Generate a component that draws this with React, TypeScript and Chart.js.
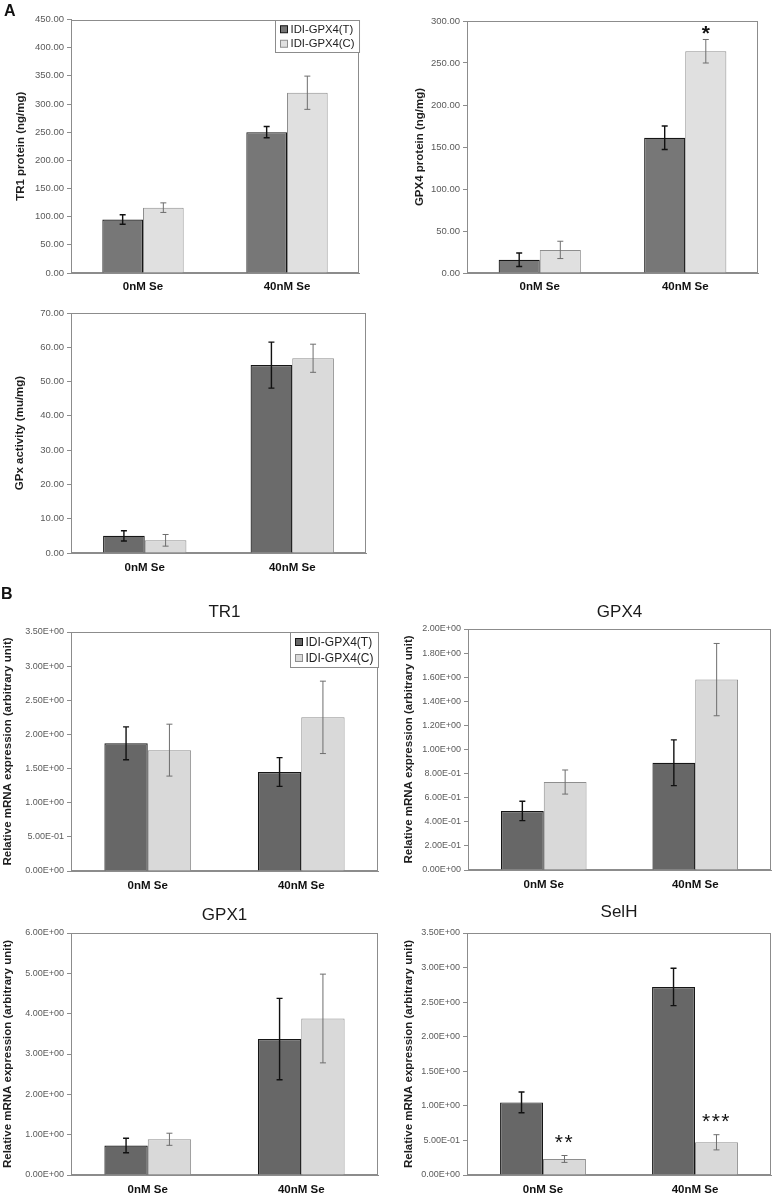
import React, { useEffect, useRef } from "react";
import { Chart, registerables } from "chart.js";
Chart.register(...registerables);

// ---------------- data ----------------
const categories = ["0nM Se", "40nM Se"];
const seriesNames = ["IDI-GPX4(T)", "IDI-GPX4(C)"];

// Panel A
const tr1ProteinT = [95, 250];
const tr1ProteinTErr = [8.5, 10];
const tr1ProteinC = [116, 320];
const tr1ProteinCErr = [8.5, 29.5];
const tr1ProteinTicks = [0, 50, 100, 150, 200, 250, 300, 350, 400, 450];

const gpx4ProteinT = [15.8, 161];
const gpx4ProteinTErr = [8, 14];
const gpx4ProteinC = [27.5, 264];
const gpx4ProteinCErr = [10.3, 14];
const gpx4ProteinStars = ["", "*"];
const gpx4ProteinTicks = [0, 50, 100, 150, 200, 250, 300];

const gpxActivityT = [5.0, 54.8];
const gpxActivityTErr = [1.5, 6.7];
const gpxActivityC = [3.7, 56.8];
const gpxActivityCErr = [1.7, 4.1];
const gpxActivityTicks = [0, 10, 20, 30, 40, 50, 60, 70];

// Panel B
const tr1MrnaT = [1.87, 1.45];
const tr1MrnaTErr = [0.24, 0.21];
const tr1MrnaC = [1.77, 2.25];
const tr1MrnaCErr = [0.38, 0.53];
const tr1MrnaTicks = [0, 0.5, 1, 1.5, 2, 2.5, 3, 3.5];

const gpx4MrnaT = [0.49, 0.89];
const gpx4MrnaTErr = [0.08, 0.19];
const gpx4MrnaC = [0.73, 1.58];
const gpx4MrnaCErr = [0.1, 0.3];
const gpx4MrnaTicks = [0, 0.2, 0.4, 0.6, 0.8, 1.0, 1.2, 1.4, 1.6, 1.8, 2.0];

const gpx1MrnaT = [0.73, 3.37];
const gpx1MrnaTErr = [0.18, 1.01];
const gpx1MrnaC = [0.886, 3.88];
const gpx1MrnaCErr = [0.15, 1.1];
const gpx1MrnaTicks = [0, 1, 2, 3, 4, 5, 6];

const selhMrnaT = [1.05, 2.72];
const selhMrnaTErr = [0.15, 0.27];
const selhMrnaC = [0.232, 0.473];
const selhMrnaCErr = [0.05, 0.11];
const selhMrnaStars = ["**", "***"];
const selhMrnaTicks = [0, 0.5, 1, 1.5, 2, 2.5, 3, 3.5];

// ---------------- formatting ----------------
const fmtFixed = (v: number) => v.toFixed(2);
const fmtExp = (v: number) => {
  if (Math.abs(v) < 1e-12) return "0.00E+00";
  let e = Math.floor(Math.log10(Math.abs(v)) + 1e-9);
  let m = v / Math.pow(10, e);
  if (Number(m.toFixed(2)) >= 10) {
    m /= 10;
    e += 1;
  }
  return m.toFixed(2) + "E" + (e < 0 ? "-" : "+") + String(Math.abs(e)).padStart(2, "0");
};

const SANS = "'Liberation Sans', Arial, Helvetica, sans-serif";

// ---------------- plugins ----------------
const framePlugin = {
  id: "frame",
  beforeDatasetsDraw(chart: any) {
    const { ctx, chartArea } = chart;
    ctx.save();
    ctx.strokeStyle = "#8c8c8c";
    ctx.lineWidth = 1;
    const l = Math.round(chartArea.left) + 0.5;
    const t = Math.round(chartArea.top) + 0.5;
    const r = Math.round(chartArea.right) - 0.5;
    const b = Math.round(chartArea.bottom) - 0.5;
    ctx.strokeRect(l, t, r - l, b - t);
    ctx.restore();
  },
};

const errorBarPlugin = {
  id: "errorBars",
  afterDatasetsDraw(chart: any, _args: any, opts: any) {
    const ctx = chart.ctx;
    const yScale = chart.scales.y;
    chart.data.datasets.forEach((ds: any, di: number) => {
      const meta = chart.getDatasetMeta(di);
      const errs = ds.errorBars;
      if (!errs) return;
      meta.data.forEach((el: any, i: number) => {
        const v = ds.data[i];
        const e = errs[i];
        const x = el.x;
        const yt = yScale.getPixelForValue(v + e);
        const yb = yScale.getPixelForValue(v - e);
        ctx.save();
        ctx.strokeStyle = ds.errorColor;
        ctx.lineWidth = ds.errorWidth;
        ctx.beginPath();
        ctx.moveTo(x, yt);
        ctx.lineTo(x, yb);
        ctx.moveTo(x - 3, yt);
        ctx.lineTo(x + 3, yt);
        ctx.moveTo(x - 3, yb);
        ctx.lineTo(x + 3, yb);
        ctx.stroke();
        const s = ds.stars ? ds.stars[i] : "";
        if (s) {
          ctx.font = opts.starFont;
          ctx.fillStyle = "#111";
          ctx.textAlign = "center";
          ctx.textBaseline = "alphabetic";
          try {
            (ctx as any).letterSpacing = opts.starSpacing || "0px";
          } catch (err) {}
          ctx.fillText(s, x, yt + opts.starOffset);
        }
        ctx.restore();
      });
    });
  },
};

const legendBoxPlugin = {
  id: "legendBox",
  afterDraw(chart: any, _args: any, opts: any) {
    if (!opts || !opts.show) return;
    const { ctx, chartArea } = chart;
    const size = opts.fontSize;
    ctx.save();
    ctx.font = `normal ${size}px ${SANS}`;
    const dsets = chart.data.datasets;
    let tw = 0;
    dsets.forEach((d: any) => {
      tw = Math.max(tw, ctx.measureText(d.label).width);
    });
    const rowH = opts.rowH;
    const sw = 7;
    const w = 5 + sw + 3 + tw + 5;
    const h = rowH * dsets.length + 3;
    const x = Math.round(chartArea.right - w) + 0.5;
    const y = Math.round(chartArea.top) + 0.5;
    ctx.fillStyle = "#ffffff";
    ctx.fillRect(x, y, w, h);
    ctx.strokeStyle = "#8c8c8c";
    ctx.lineWidth = 1;
    ctx.strokeRect(x, y, w, h);
    dsets.forEach((d: any, i: number) => {
      const cy = y + 1.5 + rowH * i + rowH / 2;
      ctx.fillStyle = d.backgroundColor;
      ctx.fillRect(x + 5, cy - sw / 2, sw, sw);
      ctx.strokeStyle = d.borderColor;
      ctx.strokeRect(x + 5, cy - sw / 2, sw, sw);
      ctx.fillStyle = "#222";
      ctx.textAlign = "left";
      ctx.textBaseline = "middle";
      ctx.fillText(d.label, x + 5 + sw + 3, cy + 0.5);
    });
    ctx.restore();
  },
};

// ---------------- panels ----------------
type Panel = {
  key: string;
  canvas: number[]; // x, y, w, h (page px)
  plot: number[]; // left, top, right, bottom (page px)
  title?: string;
  titleY?: number;
  yTitle: string;
  yTitleX: number;
  yTicks: number[];
  fmt: (v: number) => string;
  tickSize: number;
  t: number[];
  tErr: number[];
  c: number[];
  cErr: number[];
  stars?: string[];
  starFont?: string;
  starOffset?: number;
  starSpacing?: string;
  legend?: boolean;
  legendSize?: number;
  legendRow?: number;
  dark: string;
  light: string;
  labelPad: number;
};

const panels: Panel[] = [
  {
    key: "a1",
    canvas: [0, 0, 390, 298],
    plot: [71, 19.5, 359, 273],
    yTitle: "TR1 protein (ng/mg)",
    yTitleX: 21,
    yTicks: tr1ProteinTicks,
    fmt: fmtFixed,
    tickSize: 9.5,
    t: tr1ProteinT,
    tErr: tr1ProteinTErr,
    c: tr1ProteinC,
    cErr: tr1ProteinCErr,
    legend: true,
    legendSize: 11.3,
    legendRow: 14.5,
    dark: "#777777",
    light: "#e0e0e0",
    labelPad: 7,
  },
  {
    key: "a2",
    canvas: [390, 0, 386, 298],
    plot: [467, 21, 758, 273],
    yTitle: "GPX4 protein (ng/mg)",
    yTitleX: 420,
    yTicks: gpx4ProteinTicks,
    fmt: fmtFixed,
    tickSize: 9.5,
    t: gpx4ProteinT,
    tErr: gpx4ProteinTErr,
    c: gpx4ProteinC,
    cErr: gpx4ProteinCErr,
    stars: gpx4ProteinStars,
    starFont: `bold 21px ${SANS}`,
    starOffset: 1,
    dark: "#777777",
    light: "#e0e0e0",
    labelPad: 7,
  },
  {
    key: "a3",
    canvas: [0, 298, 390, 282],
    plot: [71, 313, 366, 553],
    yTitle: "GPx activity (mu/mg)",
    yTitleX: 20,
    yTicks: gpxActivityTicks,
    fmt: fmtFixed,
    tickSize: 9.5,
    t: gpxActivityT,
    tErr: gpxActivityTErr,
    c: gpxActivityC,
    cErr: gpxActivityCErr,
    dark: "#6b6b6b",
    light: "#dadada",
    labelPad: 8,
  },
  {
    key: "b1",
    canvas: [0, 580, 390, 314],
    plot: [71, 632, 378, 871],
    title: "TR1",
    titleY: 612,
    yTitle: "Relative mRNA expression (arbitrary unit)",
    yTitleX: 8,
    yTicks: tr1MrnaTicks,
    fmt: fmtExp,
    tickSize: 9,
    t: tr1MrnaT,
    tErr: tr1MrnaTErr,
    c: tr1MrnaC,
    cErr: tr1MrnaCErr,
    legend: true,
    legendSize: 12,
    legendRow: 16,
    dark: "#676767",
    light: "#d9d9d9",
    labelPad: 8,
  },
  {
    key: "b2",
    canvas: [390, 580, 386, 314],
    plot: [468, 629, 771, 870],
    title: "GPX4",
    titleY: 612,
    yTitle: "Relative mRNA expression (arbitrary unit)",
    yTitleX: 409,
    yTicks: gpx4MrnaTicks,
    fmt: fmtExp,
    tickSize: 9,
    t: gpx4MrnaT,
    tErr: gpx4MrnaTErr,
    c: gpx4MrnaC,
    cErr: gpx4MrnaCErr,
    dark: "#676767",
    light: "#d9d9d9",
    labelPad: 8,
  },
  {
    key: "b3",
    canvas: [0, 894, 390, 302],
    plot: [71, 933, 378, 1175],
    title: "GPX1",
    titleY: 915,
    yTitle: "Relative mRNA expression (arbitrary unit)",
    yTitleX: 8,
    yTicks: gpx1MrnaTicks,
    fmt: fmtExp,
    tickSize: 9,
    t: gpx1MrnaT,
    tErr: gpx1MrnaTErr,
    c: gpx1MrnaC,
    cErr: gpx1MrnaCErr,
    dark: "#676767",
    light: "#d9d9d9",
    labelPad: 8,
  },
  {
    key: "b4",
    canvas: [390, 894, 386, 302],
    plot: [467, 933, 771, 1175],
    title: "SelH",
    titleY: 912,
    yTitle: "Relative mRNA expression (arbitrary unit)",
    yTitleX: 409,
    yTicks: selhMrnaTicks,
    fmt: fmtExp,
    tickSize: 9,
    t: selhMrnaT,
    tErr: selhMrnaTErr,
    c: selhMrnaC,
    cErr: selhMrnaCErr,
    stars: selhMrnaStars,
    starFont: `normal 21px ${SANS}`,
    starOffset: -7,
    starSpacing: "1.5px",
    dark: "#676767",
    light: "#d9d9d9",
    labelPad: 8,
  },
];

function BarPanel({ p }: { p: Panel }) {
  const ref = useRef<HTMLCanvasElement | null>(null);
  useEffect(() => {
    if (!ref.current) return;
    const [cx, cy, cw, ch] = p.canvas;
    const [pl, pt, pr, pb] = p.plot;
    const titleSize = 17;
    const tlh = titleSize * 1.2;
    const yTitleSize = 11.5;
    const ylh = yTitleSize * 1.2;
    const hasTitle = !!p.title;
    const titleY = p.titleY || 0;
    const chart = new Chart(ref.current, {
      type: "bar",
      data: {
        labels: categories,
        datasets: [
          {
            label: seriesNames[0],
            data: p.t,
            errorBars: p.tErr,
            errorColor: "#111111",
            errorWidth: 1.4,
            backgroundColor: p.dark,
            borderColor: "#161616",
            borderWidth: 1.2,
            categoryPercentage: 0.565,
            barPercentage: 1,
          } as any,
          {
            label: seriesNames[1],
            data: p.c,
            errorBars: p.cErr,
            stars: p.stars,
            errorColor: "#6e6e6e",
            errorWidth: 1,
            backgroundColor: p.light,
            borderColor: "#8e8e8e",
            borderWidth: 1,
            categoryPercentage: 0.565,
            barPercentage: 1,
          } as any,
        ],
      },
      options: {
        responsive: false,
        animation: false,
        devicePixelRatio: 1,
        events: [],
        layout: {
          padding: {
            left: 0,
            top: hasTitle ? 0 : pt - cy,
            right: cx + cw - pr,
            bottom: 0,
          },
        },
        plugins: {
          legend: { display: false },
          tooltip: { enabled: false },
          title: {
            display: hasTitle,
            text: p.title || "",
            fullSize: false,
            color: "#1a1a1a",
            font: { family: SANS, size: titleSize, weight: "normal" },
            padding: hasTitle
              ? { top: titleY - cy - tlh / 2, bottom: pt - titleY - tlh / 2 }
              : 0,
          },
          errorBars: {
            starFont: p.starFont || `bold 20px ${SANS}`,
            starOffset: p.starOffset || 0,
            starSpacing: p.starSpacing || "0px",
          },
          legendBox: {
            show: !!p.legend,
            fontSize: p.legendSize || 12,
            rowH: p.legendRow || 15,
          },
        } as any,
        scales: {
          x: {
            afterFit: (s: any) => {
              s.height = cy + ch - pb;
            },
            grid: { display: false, drawTicks: false, tickLength: 0 },
            border: { display: true, color: "#8c8c8c" },
            ticks: {
              padding: p.labelPad,
              color: "#111111",
              font: { family: SANS, size: 11.5, weight: "bold" },
              maxRotation: 0,
            },
          },
          y: {
            min: p.yTicks[0],
            max: p.yTicks[p.yTicks.length - 1],
            afterBuildTicks: (s: any) => {
              s.ticks = p.yTicks.map((v) => ({ value: v }));
            },
            afterFit: (s: any) => {
              s.width = pl - cx;
            },
            grid: {
              drawOnChartArea: false,
              drawTicks: true,
              tickLength: 4,
              color: "#8c8c8c",
            },
            border: { display: true, color: "#8c8c8c" },
            ticks: {
              padding: 3,
              color: "#5a5a5a",
              font: { family: SANS, size: p.tickSize },
              callback: (v: any) => p.fmt(Number(v)),
            },
            title: {
              display: true,
              text: p.yTitle,
              color: "#1e1e1e",
              font: { family: SANS, size: yTitleSize, weight: "bold" },
              padding: { top: p.yTitleX - cx - ylh / 2, bottom: 0 },
            },
          },
        },
      } as any,
      plugins: [framePlugin, errorBarPlugin, legendBoxPlugin] as any,
    });
    return () => chart.destroy();
  }, [p]);
  const [cx, cy, cw, ch] = p.canvas;
  return (
    <div style={{ position: "absolute", left: cx, top: cy, width: cw, height: ch }}>
      <canvas ref={ref} width={cw} height={ch} style={{ display: "block", width: cw, height: ch }} />
    </div>
  );
}

export default function App() {
  const letterStyle: React.CSSProperties = {
    position: "absolute",
    fontFamily: SANS,
    fontWeight: "bold",
    fontSize: 16,
    lineHeight: "16px",
    color: "#111",
    zIndex: 2,
  };
  return (
    <div
      style={{
        position: "absolute",
        left: 0,
        top: 0,
        width: 776,
        height: 1196,
        background: "#ffffff",
        overflow: "hidden",
      }}
    >
      {panels.map((p) => (
        <BarPanel key={p.key} p={p} />
      ))}
      <div style={{ ...letterStyle, left: 4, top: 3 }}>A</div>
      <div style={{ ...letterStyle, left: 1, top: 586 }}>B</div>
    </div>
  );
}
